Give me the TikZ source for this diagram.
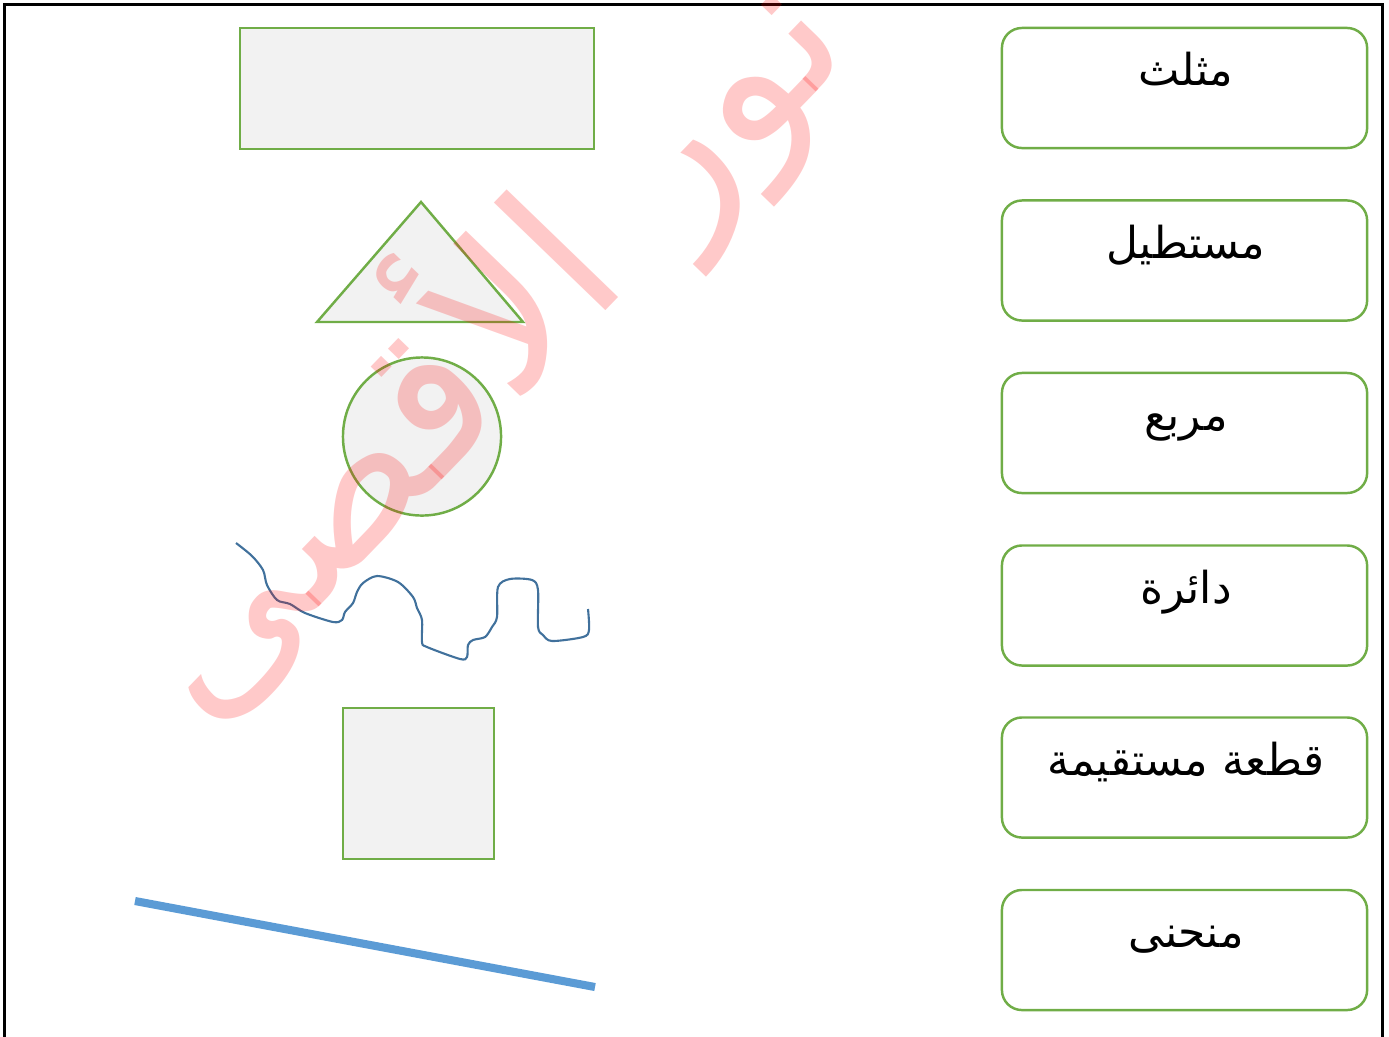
\documentclass[tikz,border=0pt]{standalone}
\usepackage{fontspec}
\newfontfamily\arabicfont[Script=Arabic]{DejaVu Sans}
\TeXXeTstate=1
\usetikzlibrary{positioning,calc}

\definecolor{shapegreen}{HTML}{70AD47}
\definecolor{shapegrey}{HTML}{F2F2F2}
\definecolor{curveblue}{HTML}{41719C}
\definecolor{lineblue}{HTML}{5B9BD5}

\tikzset{
  shapebox/.style={draw=shapegreen,fill=shapegrey,line width=0.7pt,inner sep=0pt},
  wordbox/.style={draw=shapegreen,line width=0.7pt,rounded corners=0.2cm,
    minimum width=3.65cm,minimum height=1.2cm,inner sep=0pt},
  word/.style={font=\arabicfont\fontsize{12.5}{15}\selectfont,anchor=base,inner sep=0pt},
}

\begin{document}
\begin{tikzpicture}[x=0.01cm,y=-0.01cm]
	\useasboundingbox (0,0) rectangle (1389,1036);
	\draw[line width=0.85pt] (4.5,1040) -- (4.5,4.5) -- (1382.5,4.5) -- (1382.5,1040);

	% shapes
	\node[shapebox,minimum width=3.54cm,minimum height=1.21cm] (rect) at (417,88.5) {};
	\draw[shapebox] (421,202) coordinate (apex) -- (523,322) -- (317,322) -- cycle;
	\node[shapebox,circle,minimum size=1.58cm] (circ) at (422,436.5) {};
	\node[shapebox,minimum size=1.51cm] (sq) at (418.5,783.5) {};
	\draw[curveblue,line width=0.6pt] plot[smooth,tension=0.5] coordinates {
		(236,543) (252,556) (263,570) (267,585) (277,600) (290,604) (305,613)
		(333,622) (342,620) (345,612) (353,603) (357,592) (363,583) (377,576)
		(398,582) (413,597) (417,608) (422,620) (422,642) (427,647) (460,659)
		(467,657) (468,645) (473,640) (485,637) (492,627) (497,617) (498,587)
		(510,579) (532,580) (538,590) (538,627) (543,635) (552,641) (583,637)
		(589,630) (588,609)};
	\coordinate (segA) at (135,901);
	\coordinate (segB) at (595,987);
	\draw[lineblue,line width=2.3pt] (segA) -- (segB);

	% words
	\node[wordbox] (box1) at (1184.5,88) {};
	\node[wordbox] (box2) at (1184.5,260.5) {};
	\node[wordbox] (box3) at (1184.5,433) {};
	\node[wordbox] (box4) at (1184.5,605.5) {};
	\node[wordbox] (box5) at (1184.5,777.5) {};
	\node[wordbox] (box6) at (1184.5,950) {};
	\node[word] (w1) at ([yshift=-0.59cm,xshift=0.015cm]box1.north) {\beginR مثلث\endR};
	\node[word] (w2) at ([yshift=-0.59cm,xshift=0.015cm]box2.north) {\beginR مستطيل\endR};
	\node[word] (w3) at ([yshift=-0.59cm,xshift=0.015cm]box3.north) {\beginR مربع\endR};
	\node[word] (w4) at ([yshift=-0.59cm,xshift=0.015cm]box4.north) {\beginR دائرة\endR};
	\node[word] (w5) at ([yshift=-0.59cm,xshift=0.015cm]box5.north) {\beginR قطعة مستقيمة\endR};
	\node[word] (w6) at ([yshift=-0.59cm,xshift=0.015cm]box6.north) {\beginR منحنى\endR};

	% watermark
	\node[rotate=46,text=red,text opacity=0.21,inner sep=0pt,
		font=\arabicfont\fontsize{58}{64}\selectfont] (mark) at (478,338)
		{\beginR نور الأقصى\endR};
\end{tikzpicture}
\end{document}
